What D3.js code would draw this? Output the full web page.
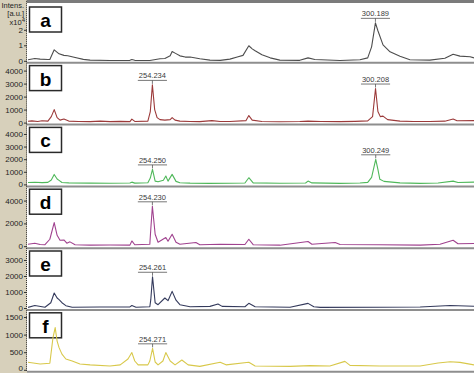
<!DOCTYPE html>
<html>
<head>
<meta charset="utf-8">
<script src="https://cdn.jsdelivr.net/npm/d3@7"></script>
<style>
  body { margin: 0; background: #fff; }
  svg { display: block; font-family: "Liberation Sans", Arial, sans-serif; }
</style>
</head>
<body>
<svg width="474" height="373" viewBox="0 0 474 373"></svg>
<script>
// spectra: [m/z, intensity]
const panelNames = ["a", "b", "c", "d", "e", "f"];

const specA = [
  [228.6, 650], [230.0, 1500], [231.1, 1100], [232.7, 850], [233.1, 900], [234.0, 7100],
  [235.0, 4500], [236.0, 3500], [236.8, 3300], [238.1, 2300], [240.0, 900], [241.4, 450],
  [245.5, 200], [249.6, 300], [250.0, 800], [250.6, 300], [253.7, 200], [255.8, 1300],
  [256.8, 1500], [257.9, 3200], [258.3, 6000], [259.0, 4800], [259.9, 3200], [261.0, 2400],
  [262.0, 2400], [264.0, 1300], [266.1, 450], [268.2, 300], [270.2, 1100], [271.9, 2600],
  [272.9, 3500], [274.1, 9700], [274.8, 7700], [275.4, 6450], [276.8, 3900], [278.5, 1900],
  [280.5, 450], [284.6, 300], [286.3, 1900], [287.7, 800], [292.9, 200], [297.0, 650],
  [298.6, 1900], [299.4, 9000], [300.19, 24500], [300.7, 19400], [301.75, 10300], [303.2, 5800],
  [305.25, 2900], [307.3, 650], [311.4, 450], [314.5, 1600], [316.2, 4200], [317.6, 3000],
  [319.7, 2600], [320.5, 1900]
];

const specB = [
  [228.6, 100], [229.4, 130], [230.6, 90], [231.5, 140], [232.7, 110], [233.4, 460], [234.0, 1000],
  [234.6, 385], [235.2, 190], [236.0, 270], [237.0, 115], [239.0, 90], [241.4, 77], [243.5, 110],
  [245.5, 77], [247.6, 95], [249.6, 77], [250.0, 270], [250.6, 90], [253.3, 115], [253.8, 850],
  [254.23, 2900], [254.7, 1000], [255.2, 385], [255.8, 230], [256.8, 190], [257.9, 230], [258.3, 385],
  [258.9, 190], [259.9, 115], [262.0, 90], [264.0, 77], [266.5, 150], [268.2, 80], [270.2, 90],
  [273.5, 150], [274.1, 540], [274.8, 190], [276.8, 90], [280.5, 70], [284.6, 90], [286.3, 115],
  [289.0, 80], [292.9, 77], [296.0, 95], [298.6, 130], [299.6, 460], [300.21, 2620], [300.7, 850],
  [301.2, 460], [301.75, 500], [302.7, 230], [305.25, 115], [308.0, 80], [311.4, 90], [314.5, 110],
  [316.2, 270], [317.0, 140], [320.5, 150]
];

const specC = [
  [228.6, 150], [230.0, 170], [231.5, 140], [232.7, 160], [233.4, 350], [234.0, 790], [234.6, 430],
  [235.0, 320], [235.6, 150], [237.0, 120], [241.4, 100], [245.5, 90], [249.6, 110], [250.0, 180],
  [250.6, 100], [253.3, 130], [253.8, 500], [254.25, 1190], [254.8, 260], [255.4, 210], [256.5, 330],
  [257.0, 660], [257.45, 260], [258.3, 794], [259.1, 240], [259.9, 130], [262.0, 100], [266.0, 80],
  [270.2, 90], [273.3, 110], [274.1, 530], [275.0, 120], [280.5, 90], [285.8, 110], [286.3, 260],
  [287.1, 120], [292.9, 80], [297.0, 110], [298.6, 160], [299.4, 560], [300.25, 1990], [300.7, 1190],
  [301.1, 400], [301.95, 240], [305.25, 120], [309.4, 80], [313.1, 110], [316.2, 260], [317.2, 150],
  [320.5, 180]
];

const specD = [
  [228.6, 175], [230.0, 260], [231.1, 150], [232.1, 130], [233.1, 610], [234.0, 2070], [234.6, 960],
  [235.2, 525], [236.0, 550], [236.6, 260], [237.25, 380], [238.3, 130], [241.4, 90], [245.5, 110],
  [249.6, 95], [250.0, 460], [250.6, 130], [253.7, 175], [253.9, 1490], [254.23, 3500], [254.8, 1050],
  [255.4, 350], [257.0, 760], [257.45, 440], [258.3, 1050], [259.1, 350], [259.9, 175], [263.2, 320],
  [264.0, 130], [268.2, 175], [273.3, 150], [274.1, 610], [275.0, 130], [280.5, 90], [286.3, 410],
  [287.1, 175], [291.9, 320], [292.9, 150], [301.1, 130], [309.4, 90], [313.5, 175], [316.2, 525],
  [317.2, 220], [320.5, 240]
];

const specE = [
  [228.6, 40], [230.0, 160], [232.1, 50], [233.3, 330], [234.0, 940], [234.6, 625], [235.0, 520],
  [235.6, 330], [236.4, 145], [237.7, 50], [243.4, 60], [249.6, 70], [250.0, 160], [250.85, 50],
  [253.7, 80], [253.9, 520], [254.26, 1950], [254.8, 330], [255.4, 205], [256.8, 625], [257.45, 456],
  [258.3, 1040], [259.1, 490], [259.9, 205], [262.0, 80], [266.1, 100], [267.75, 250], [268.6, 100],
  [273.3, 80], [274.1, 290], [275.4, 80], [282.6, 50], [286.3, 290], [287.5, 80], [288.8, 40],
  [301.1, 50], [309.4, 60], [315.6, 160], [320.5, 110]
];

const specF = [
  [228.6, 214], [231.1, 167], [233.1, 186], [233.75, 917], [234.2, 1200], [234.6, 815], [235.0, 630],
  [235.6, 445], [236.4, 306], [237.7, 250], [239.3, 167], [241.4, 140], [245.5, 110], [247.6, 140],
  [249.2, 306], [250.0, 490], [250.6, 250], [251.3, 140], [253.3, 140], [253.7, 250], [254.27, 610],
  [254.8, 222], [255.4, 140], [256.4, 250], [257.0, 490], [257.9, 250], [258.9, 140], [260.3, 280],
  [261.6, 140], [264.0, 97], [268.2, 215], [269.4, 140], [274.1, 215], [275.4, 110], [282.6, 97],
  [286.7, 120], [290.8, 110], [293.9, 240], [294.95, 125], [301.1, 110], [309.4, 110], [313.1, 195],
  [315.6, 230], [317.6, 210], [320.5, 140]
];

const spectra = [specA, specB, specC, specD, specE, specF];
const lineColors = ["#4d4d4d", "#9c3a3a", "#4fb85a", "#a0428f", "#343a5c", "#d8c84a"];

// y domain tops and tick values per panel
const yMaxes = [36800, 4385, 4520, 5000, 3560, 1620];
const tickValues = [
  [0, 10000, 20000],
  [0, 1000, 2000, 3000, 4000],
  [0, 1000, 2000, 3000, 4000],
  [0, 2000, 4000],
  [0, 1000, 2000, 3000],
  [0, 500, 1000, 1500]
];
const tickLabels = [
  ["0", "1", "2"],
  ["0", "1000", "2000", "3000", "4000"],
  ["0", "1000", "2000", "3000", "4000"],
  ["0", "2000", "4000"],
  ["0", "1000", "2000", "3000"],
  ["0", "500", "1000", "1500"]
];
const peakLabels = [
  [[300.19, "300.189"]],
  [[254.23, "254.234"], [300.21, "300.208"]],
  [[254.25, "254.250"], [300.25, "300.249"]],
  [[254.23, "254.230"]],
  [[254.26, "254.261"]],
  [[254.27, "254.271"]]
];
const mzDomain = [228.6, 320.5];

let svg = d3.select("svg");
let W = 474, H = 373;
let gutter = 27;
let pitch = 61.8, firstBase = 60.8, panelH = 57;

svg.append("rect").attr("width", W).attr("height", H).attr("fill", "#fff");
svg.append("rect").attr("width", gutter).attr("height", H).attr("fill", "#d7d0bb");
svg.append("rect").attr("x", gutter).attr("width", W - gutter).attr("height", 3).attr("fill", "#7b7b7b");

let xScale = d3.scaleLinear().domain(mzDomain).range([gutter + 1, W]);

let defs = svg.append("defs");

spectra.forEach((spec, i) => {
  let base = firstBase + i * pitch;
  let yScale = d3.scaleLinear().domain([0, yMaxes[i]]).range([base, base - panelH]);
  let g = svg.append("g").attr("class", "panel-" + panelNames[i]);

  // separator under panel
  g.append("line")
    .attr("x1", gutter).attr("x2", W)
    .attr("y1", base + 2).attr("y2", base + 2)
    .attr("stroke", "#8e8e8e").attr("stroke-width", 2);

  // label box
  let boxTop = Math.max(base - 57, 7);
  g.append("rect")
    .attr("x", 29.5).attr("y", boxTop)
    .attr("width", 32).attr("height", 25)
    .attr("fill", "#fff").attr("stroke", "#2a2a2a").attr("stroke-width", 1.5);
  g.append("text")
    .attr("x", 45.5).attr("y", boxTop + 20)
    .attr("text-anchor", "middle")
    .attr("font-size", "19px").attr("font-weight", "bold")
    .attr("fill", "#000")
    .text(panelNames[i]);

  // spectrum line
  defs.append("clipPath").attr("id", "clip" + i)
    .append("rect")
    .attr("x", gutter + 1).attr("y", base - 60)
    .attr("width", W - gutter).attr("height", 61);

  let line = d3.line()
    .x((d) => xScale(d[0]))
    .y((d) => yScale(d[1]));

  g.append("path")
    .datum(spec)
    .attr("d", line)
    .attr("clip-path", "url(#clip" + i + ")")
    .attr("fill", "none")
    .attr("stroke", lineColors[i])
    .attr("stroke-width", 1.1)
    .attr("stroke-linejoin", "round");

  // y axis
  let yAxis = g.append("g")
    .attr("transform", `translate(${gutter},0)`)
    .call(
      d3.axisLeft(yScale)
        .tickValues(tickValues[i])
        .tickFormat((d, j) => tickLabels[i][j])
        .tickSize(3)
        .tickPadding(1)
    );
  yAxis.select(".domain").remove();
  yAxis.selectAll("line").attr("stroke", "#333");
  yAxis.selectAll("text")
    .attr("font-size", "8px")
    .attr("font-family", "Liberation Sans, Arial, sans-serif")
    .attr("fill", "#1e1e1e");
  // the last zero label sits on the window edge
  if (i === spectra.length - 1) {
    yAxis.selectAll("text").filter((d) => d === 0).attr("dy", "0.1em");
  }
  g.append("line")
    .attr("x1", gutter - 0.5).attr("x2", gutter - 0.5)
    .attr("y1", base + 1).attr("y2", base - 60)
    .attr("stroke", "#333").attr("stroke-dasharray", "1,1");

  // peak labels
  peakLabels[i].forEach(([mz, txt]) => {
    let near = spec.filter((d) => Math.abs(d[0] - mz) < 0.6);
    let top = d3.greatest(near, (d) => d[1]);
    let px = xScale(top[0]);
    let py = yScale(top[1]);
    let t = g.append("text")
      .attr("x", px).attr("y", py - 6.5)
      .attr("text-anchor", "middle")
      .attr("font-size", "7.5px")
      .attr("fill", "#3a3a3a")
      .text(txt);
    let tw = t.node().getComputedTextLength();
    g.append("line")
      .attr("x1", px - tw / 2 - 1).attr("x2", px + tw / 2 + 1)
      .attr("y1", py - 4.5).attr("y2", py - 4.5)
      .attr("stroke", "#555").attr("stroke-width", 0.8);
    g.append("line")
      .attr("x1", px).attr("x2", px)
      .attr("y1", py - 4.5).attr("y2", py - 1)
      .attr("stroke", "#555").attr("stroke-width", 0.8);
  });
});

// intensity caption in the gutter
let cap = svg.append("g")
  .attr("font-size", "7.5px")
  .attr("fill", "#1e1e1e")
  .attr("text-anchor", "end");
cap.append("text").attr("x", 24).attr("y", 7.5).text("Intens.");
cap.append("text").attr("x", 24).attr("y", 16).text("[a.u.]");
let xt = cap.append("text").attr("x", 25).attr("y", 24.5);
xt.append("tspan").text("x10");
xt.append("tspan").attr("dy", -3).attr("font-size", "6px").text("4");
</script>
</body>
</html>
